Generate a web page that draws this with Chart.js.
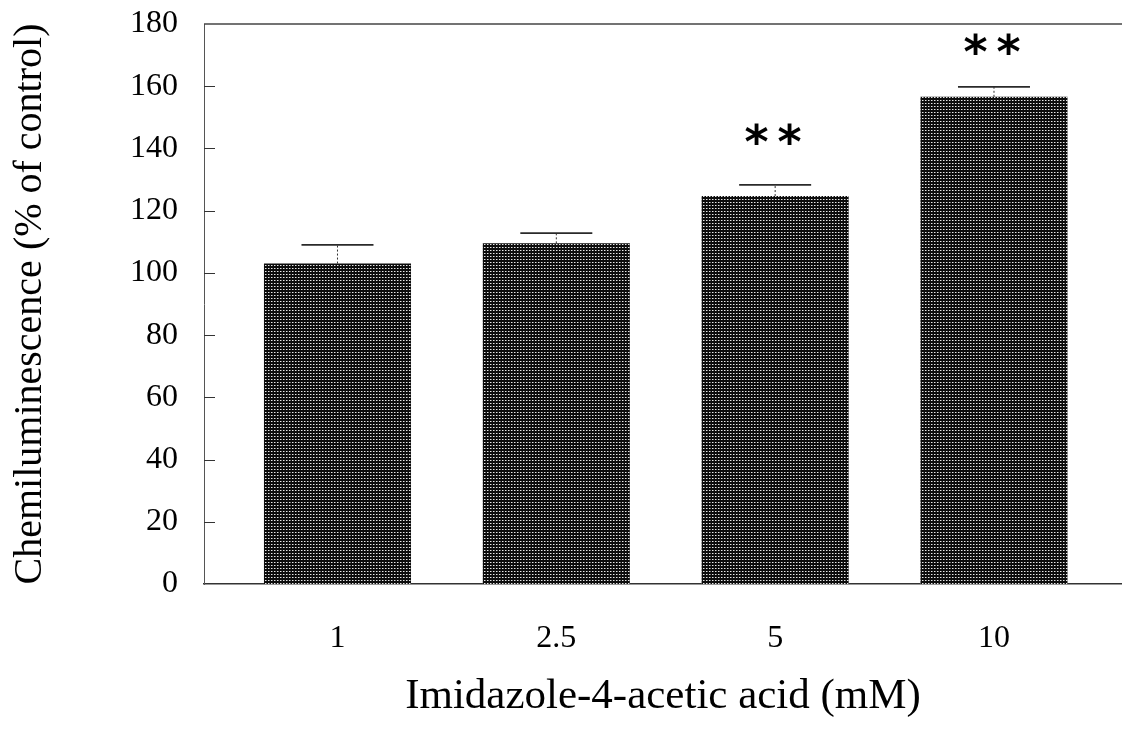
<!DOCTYPE html>
<html>
<head>
<meta charset="utf-8">
<script src="https://cdn.jsdelivr.net/npm/chart.js@4"></script>
<style>
  html, body { margin: 0; padding: 0; background: #fff; }
  #wrap { width: 1122px; height: 731px; }
</style>
</head>
<body>
<div id="wrap"><canvas id="chemChart"></canvas></div>
<script>
// concentrations (mM) and chemiluminescence, % of control
const categories = ['1', '2.5', '5', '10'];
const meanValues = [103, 109.5, 124.7, 156.6];
const errorTops = [109, 112.8, 128.3, 159.8];
const sigMarks = ['', '', '* *', '* *'];
const sigLabelY = [null, null, 143.7, 172.6];
const yTicks = [0, 20, 40, 60, 80, 100, 120, 140, 160, 180];

const serif = "'Liberation Serif', 'Times New Roman', serif";

// dotted dark fill like the printed halftone
function makePattern() {
  const c = document.createElement('canvas');
  c.width = 3; c.height = 3;
  const g = c.getContext('2d');
  g.fillStyle = '#0c0c0c';
  g.fillRect(0, 0, 3, 3);
  g.fillStyle = '#e8e8e8';
  g.fillRect(1, 1, 1, 1);
  g.fillStyle = '#777';
  g.fillRect(2, 1, 1, 1);
  return g.createPattern(c, 'repeat');
}

const extras = {
  id: 'extras',
  afterDatasetsDraw(chart) {
    const ctx = chart.ctx;
    const x = chart.scales.x, y = chart.scales.y;
    const area = chart.chartArea;
    ctx.save();

    // top frame line
    ctx.strokeStyle = '#444';
    ctx.lineWidth = 1.5;
    ctx.beginPath();
    ctx.moveTo(area.left, area.top);
    ctx.lineTo(area.right, area.top);
    ctx.stroke();

    // inward tick marks on the y axis
    ctx.lineWidth = 1;
    ctx.strokeStyle = '#333';
    yTicks.forEach(v => {
      if (v === 0 || v === 180) return;
      const py = Math.round(y.getPixelForValue(v)) + 0.5;
      ctx.beginPath();
      ctx.moveTo(area.left, py);
      ctx.lineTo(area.left + 11, py);
      ctx.stroke();
    });

    // error bars: dotted stem + cap
    categories.forEach((c, i) => {
      const cx = x.getPixelForValue(i + 1);
      const yTop = y.getPixelForValue(meanValues[i]);
      const yErr = y.getPixelForValue(errorTops[i]);
      ctx.strokeStyle = '#333';
      ctx.lineWidth = 1;
      ctx.setLineDash([2, 2]);
      ctx.beginPath();
      ctx.moveTo(cx, yTop);
      ctx.lineTo(cx, yErr);
      ctx.stroke();
      ctx.setLineDash([]);
      ctx.lineWidth = 1.8;
      ctx.strokeStyle = '#2a2a2a';
      ctx.beginPath();
      ctx.moveTo(cx - 36, yErr);
      ctx.lineTo(cx + 36, yErr);
      ctx.stroke();
    });

    // significance asterisks
    ctx.fillStyle = '#000';
    ctx.font = "bold 46px 'DejaVu Sans', sans-serif";
    ctx.textAlign = 'center';
    ctx.textBaseline = 'middle';
    categories.forEach((c, i) => {
      if (!sigMarks[i]) return;
      const cx = x.getPixelForValue(i + 1) - 2;
      const py = y.getPixelForValue(sigLabelY[i]) + 9;
      ctx.fillText('*', cx - 16.5, py);
      ctx.fillText('*', cx + 16.5, py);
    });
    ctx.restore();
  }
};

new Chart(document.getElementById('chemChart').getContext('2d'), {
  type: 'bar',
  data: {
    datasets: [{
      data: meanValues.map((v, i) => ({ x: i + 1, y: v })),
      backgroundColor: makePattern(),
      borderWidth: 0,
      categoryPercentage: 1,
      barPercentage: 0.672
    }]
  },
  options: {
    responsive: true,
    maintainAspectRatio: false,
    animation: false,
    layout: { padding: { top: 24, right: 0, left: 0, bottom: 0 } },
    plugins: { legend: { display: false }, tooltip: { enabled: false } },
    scales: {
      x: {
        type: 'linear',
        offset: false,
        min: 0.39,
        max: 4.585,
        grid: { display: false, drawTicks: false },
        border: { display: true, color: '#333', width: 1.5 },
        afterBuildTicks: (scale) => {
          scale.ticks = categories.map((c, i) => ({ value: i + 1 }));
        },
        afterFit: (scale) => {
          scale.height = 147;
          scale.paddingLeft = 0;
          scale.paddingRight = 0;
        },
        ticks: {
          autoSkip: false,
          padding: 35,
          color: '#000',
          font: { family: serif, size: 32 },
          callback: (v) => categories[v - 1]
        },
        title: {
          display: true,
          text: 'Imidazole-4-acetic acid (mM)',
          color: '#000',
          font: { family: serif, size: 43 },
          padding: { top: 17, bottom: 8 }
        }
      },
      y: {
        min: 0,
        max: 180,
        afterBuildTicks: (scale) => {
          scale.ticks = yTicks.map(v => ({ value: v }));
        },
        afterFit: (scale) => {
          scale.width = 204;
          scale.paddingTop = 0;
          scale.paddingBottom = 0;
        },
        grid: { display: false, drawTicks: false },
        border: { display: true, color: '#555', width: 1 },
        ticks: {
          padding: 26,
          color: '#000',
          font: { family: serif, size: 32 }
        },
        title: {
          display: true,
          text: 'Chemiluminescence (% of control)',
          color: '#000',
          font: { family: serif, size: 40 },
          padding: { top: 6, bottom: 0 }
        }
      }
    }
  },
  plugins: [extras]
});
</script>
</body>
</html>
